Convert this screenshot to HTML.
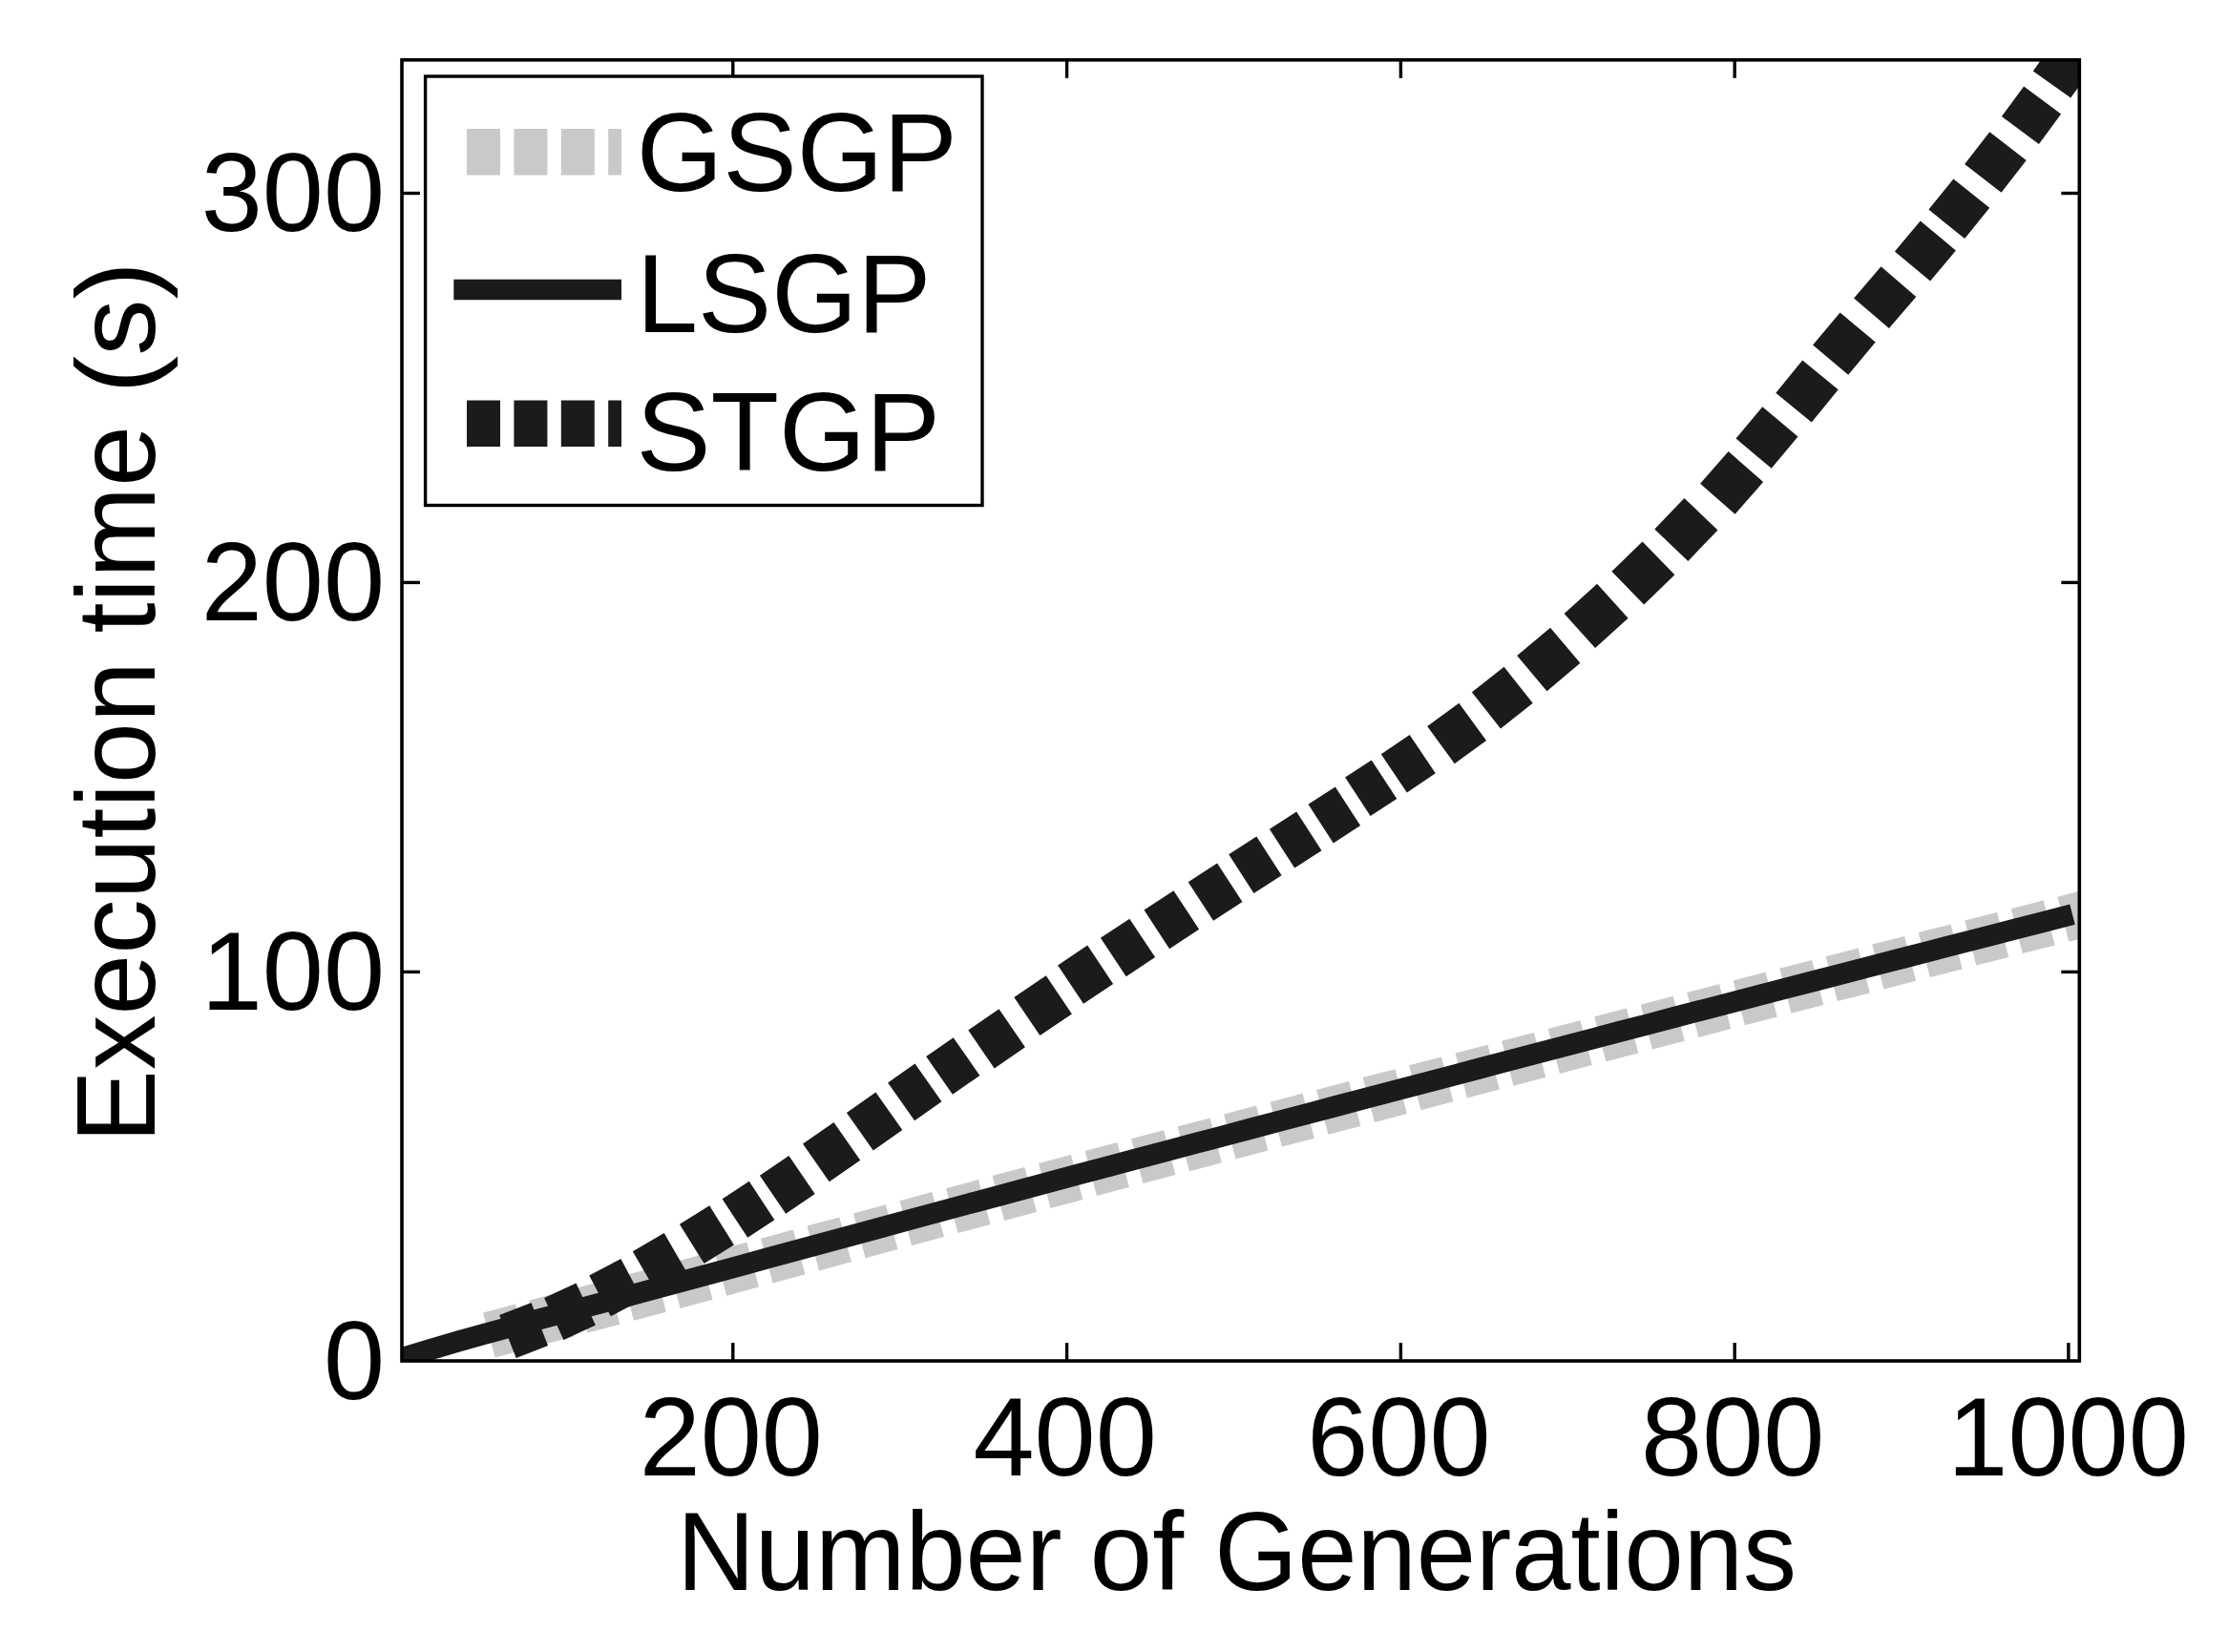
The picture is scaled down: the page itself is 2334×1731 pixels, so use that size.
<!DOCTYPE html>
<html><head><meta charset="utf-8"><title>Execution time</title>
<style>html,body{margin:0;padding:0;background:#fff}svg{display:block}text{font-family:"Liberation Sans",Arial,Helvetica,sans-serif;font-size:117px;fill:#000}</style></head>
<body>
<svg width="2334" height="1731" viewBox="0 0 2334 1731">
<rect width="2334" height="1731" fill="#fff"/>
<defs><clipPath id="ax"><rect x="421.0" y="62.8" width="1757.3" height="1363.2"/></clipPath></defs>
<g stroke="#000" stroke-width="3.4" fill="none">
<line x1="767.8" y1="1426.0" x2="767.8" y2="1407.0"/>
<line x1="767.8" y1="62.8" x2="767.8" y2="81.8"/>
<line x1="1117.6" y1="1426.0" x2="1117.6" y2="1407.0"/>
<line x1="1117.6" y1="62.8" x2="1117.6" y2="81.8"/>
<line x1="1467.4" y1="1426.0" x2="1467.4" y2="1407.0"/>
<line x1="1467.4" y1="62.8" x2="1467.4" y2="81.8"/>
<line x1="1817.2" y1="1426.0" x2="1817.2" y2="1407.0"/>
<line x1="1817.2" y1="62.8" x2="1817.2" y2="81.8"/>
<line x1="2166.9" y1="1426.0" x2="2166.9" y2="1407.0"/>
<line x1="2166.9" y1="62.8" x2="2166.9" y2="81.8"/>
<line x1="421.0" y1="1018.4" x2="440.0" y2="1018.4"/>
<line x1="2178.3" y1="1018.4" x2="2159.3" y2="1018.4"/>
<line x1="421.0" y1="610.4" x2="440.0" y2="610.4"/>
<line x1="2178.3" y1="610.4" x2="2159.3" y2="610.4"/>
<line x1="421.0" y1="202.5" x2="440.0" y2="202.5"/>
<line x1="2178.3" y1="202.5" x2="2159.3" y2="202.5"/>
</g>
<g clip-path="url(#ax)">
<g fill="#c9c9c9">
<polygon points="518.6,1422.4 552.5,1413.2 539.8,1366.4 506.0,1375.6"/>
<polygon points="567.0,1409.4 600.9,1400.4 588.5,1353.5 554.6,1362.5"/>
<polygon points="615.4,1396.6 649.3,1387.7 637.0,1340.8 603.2,1349.7"/>
<polygon points="664.0,1383.8 697.9,1374.8 685.4,1328.0 651.6,1337.0"/>
<polygon points="712.6,1370.9 746.5,1361.7 733.8,1314.9 700.0,1324.0"/>
<polygon points="761.2,1357.7 795.0,1348.5 782.3,1301.7 748.4,1310.9"/>
<polygon points="809.6,1344.5 843.5,1335.3 830.8,1288.5 797.0,1297.7"/>
<polygon points="858.1,1331.4 892.0,1322.2 879.3,1275.4 845.5,1284.6"/>
<polygon points="906.6,1318.2 940.5,1309.1 927.8,1262.2 894.0,1271.4"/>
<polygon points="955.1,1305.1 989.0,1296.0 976.4,1249.1 942.5,1258.3"/>
<polygon points="1003.6,1292.0 1037.5,1282.9 1024.9,1236.1 991.0,1245.2"/>
<polygon points="1052.1,1279.0 1086.0,1269.9 1073.4,1223.0 1039.5,1232.1"/>
<polygon points="1100.6,1266.0 1134.4,1256.9 1121.9,1210.0 1088.0,1219.1"/>
<polygon points="1149.0,1253.0 1182.9,1244.0 1170.4,1197.1 1136.6,1206.1"/>
<polygon points="1197.5,1240.1 1231.4,1231.1 1219.0,1184.2 1185.1,1193.2"/>
<polygon points="1246.0,1227.3 1279.9,1218.3 1267.5,1171.4 1233.6,1180.4"/>
<polygon points="1294.5,1214.4 1328.4,1205.5 1316.0,1158.6 1282.1,1167.5"/>
<polygon points="1343.0,1201.6 1376.9,1192.7 1364.5,1145.8 1330.6,1154.7"/>
<polygon points="1391.5,1188.8 1425.4,1179.9 1413.0,1133.0 1379.1,1141.9"/>
<polygon points="1440.0,1176.0 1473.9,1167.1 1461.5,1120.2 1427.6,1129.1"/>
<polygon points="1488.5,1163.2 1522.4,1154.3 1510.0,1107.4 1476.1,1116.3"/>
<polygon points="1537.0,1150.5 1570.9,1141.6 1558.5,1094.7 1524.6,1103.6"/>
<polygon points="1585.5,1137.7 1619.3,1128.8 1607.0,1081.9 1573.1,1090.8"/>
<polygon points="1634.0,1125.0 1667.8,1116.1 1655.5,1069.2 1621.6,1078.1"/>
<polygon points="1682.4,1112.3 1716.3,1103.4 1704.0,1056.5 1670.2,1065.3"/>
<polygon points="1730.9,1099.6 1764.8,1090.7 1752.6,1043.8 1718.7,1052.7"/>
<polygon points="1779.4,1086.9 1813.3,1078.1 1801.1,1031.2 1767.2,1040.0"/>
<polygon points="1827.9,1074.3 1861.8,1065.5 1849.6,1018.6 1815.7,1027.4"/>
<polygon points="1876.4,1061.7 1910.3,1052.9 1898.1,1006.0 1864.2,1014.8"/>
<polygon points="1924.9,1049.1 1958.8,1040.4 1946.6,993.4 1912.7,1002.2"/>
<polygon points="1973.4,1036.6 2007.2,1027.8 1995.1,980.9 1961.2,989.6"/>
<polygon points="2021.8,1024.1 2055.7,1015.4 2043.6,968.4 2009.8,977.1"/>
<polygon points="2070.3,1011.6 2104.2,1002.9 2092.1,955.9 2058.3,964.6"/>
<polygon points="2118.8,999.1 2152.7,990.4 2140.7,943.5 2106.8,952.2"/>
<polygon points="2167.3,986.7 2201.2,978.0 2189.2,931.0 2155.3,939.7"/>
</g>
<path d="M421.0,1423.0 L450.7,1414.1 L480.3,1405.4 L510.0,1397.1 L539.6,1389.1 L569.3,1381.2 L599.0,1373.4 L628.6,1365.6 L658.3,1357.8 L687.9,1349.9 L717.6,1341.9 L747.3,1333.8 L776.9,1325.8 L806.6,1317.7 L836.3,1309.7 L865.9,1301.6 L895.6,1293.6 L925.2,1285.6 L954.9,1277.5 L984.6,1269.5 L1014.2,1261.5 L1043.9,1253.6 L1073.5,1245.6 L1103.2,1237.6 L1132.9,1229.7 L1162.5,1221.8 L1192.2,1213.9 L1221.8,1206.1 L1251.5,1198.2 L1281.2,1190.4 L1310.8,1182.5 L1340.5,1174.7 L1370.2,1166.9 L1399.8,1159.0 L1429.5,1151.2 L1459.1,1143.4 L1488.8,1135.6 L1518.5,1127.8 L1548.1,1120.0 L1577.8,1112.2 L1607.4,1104.4 L1637.1,1096.6 L1666.8,1088.8 L1696.4,1081.0 L1726.1,1073.3 L1755.7,1065.5 L1785.4,1057.8 L1815.1,1050.1 L1844.7,1042.4 L1874.4,1034.7 L1904.1,1027.0 L1933.7,1019.3 L1963.4,1011.6 L1993.0,1004.0 L2022.7,996.3 L2052.4,988.7 L2082.0,981.1 L2111.7,973.4 L2141.3,965.8 L2171.0,958.2" fill="none" stroke="#1b1b1b" stroke-width="22"/>
<g fill="#1b1b1b">
<polygon points="540.7,1423.1 574.1,1410.1 556.5,1364.9 523.1,1377.9"/>
<polygon points="590.5,1403.9 623.9,1388.5 603.5,1344.4 570.1,1359.9"/>
<polygon points="639.8,1379.3 673.0,1361.8 650.4,1318.9 617.2,1336.4"/>
<polygon points="687.1,1353.2 720.0,1334.1 695.7,1292.1 662.8,1311.2"/>
<polygon points="737.6,1323.9 768.9,1304.4 743.2,1263.3 711.9,1282.8"/>
<polygon points="783.2,1296.8 811.4,1278.3 784.8,1237.8 756.6,1256.3"/>
<polygon points="823.2,1271.8 853.7,1251.1 826.4,1211.0 795.9,1231.7"/>
<polygon points="868.7,1238.3 901.2,1215.7 873.5,1175.9 841.0,1198.5"/>
<polygon points="914.8,1205.5 945.3,1184.0 917.4,1144.4 886.9,1165.9"/>
<polygon points="958.1,1174.2 986.5,1154.2 958.5,1114.6 930.1,1134.6"/>
<polygon points="997.9,1146.8 1026.4,1126.9 998.7,1087.2 970.2,1107.0"/>
<polygon points="1041.7,1119.4 1073.9,1097.3 1046.5,1057.3 1014.3,1079.4"/>
<polygon points="1089.4,1085.1 1122.9,1062.4 1095.8,1022.2 1062.3,1044.9"/>
<polygon points="1135.0,1051.7 1166.1,1030.9 1139.2,990.6 1108.1,1011.4"/>
<polygon points="1179.7,1023.2 1210.1,1003.1 1183.3,962.7 1152.9,982.8"/>
<polygon points="1225.1,994.2 1256.1,973.8 1229.5,933.3 1198.5,953.6"/>
<polygon points="1271.1,964.8 1301.5,945.1 1275.1,904.4 1244.7,924.2"/>
<polygon points="1313.5,936.0 1342.6,917.2 1316.3,876.5 1287.2,895.3"/>
<polygon points="1356.2,909.5 1384.5,891.3 1358.2,850.5 1329.9,868.8"/>
<polygon points="1396.8,883.4 1425.1,865.1 1398.8,824.4 1370.5,842.7"/>
<polygon points="1435.6,855.1 1463.3,837.0 1436.8,796.4 1409.1,814.5"/>
<polygon points="1473.9,830.5 1503.8,810.3 1476.7,770.1 1446.8,790.3"/>
<polygon points="1523.8,800.2 1557.0,775.9 1528.4,736.7 1495.2,761.0"/>
<polygon points="1572.0,763.4 1605.7,736.7 1575.6,698.7 1541.9,725.3"/>
<polygon points="1620.5,724.2 1655.4,694.8 1624.1,657.7 1589.2,687.1"/>
<polygon points="1671.1,679.0 1705.6,647.8 1673.1,611.8 1638.6,643.0"/>
<polygon points="1722.2,633.5 1754.4,602.3 1720.6,567.5 1688.4,598.8"/>
<polygon points="1768.4,587.9 1799.5,555.4 1764.4,521.9 1733.3,554.4"/>
<polygon points="1817.6,538.7 1847.1,505.1 1810.6,473.1 1781.1,506.8"/>
<polygon points="1855.7,490.7 1883.5,457.4 1846.3,426.3 1818.5,459.6"/>
<polygon points="1897.8,442.4 1925.7,408.3 1888.2,377.6 1860.3,411.7"/>
<polygon points="1936.2,392.7 1964.7,358.6 1927.6,327.5 1899.1,361.5"/>
<polygon points="1978.9,344.1 2007.3,310.9 1970.5,279.3 1942.1,312.6"/>
<polygon points="2022.1,294.6 2048.9,262.5 2011.7,231.4 1984.9,263.5"/>
<polygon points="2058.2,250.1 2084.2,217.8 2046.4,187.4 2020.4,219.6"/>
<polygon points="2096.5,201.7 2122.7,167.9 2084.3,138.2 2058.1,172.0"/>
<polygon points="2135.9,150.9 2159.1,119.5 2120.1,90.6 2096.9,122.0"/>
<polygon points="2169.2,102.6 2209.9,45.6 2170.4,17.4 2129.8,74.4"/>
</g>
</g>
<rect x="421.0" y="62.8" width="1757.3" height="1363.2" fill="none" stroke="#000" stroke-width="3.6"/>
<rect x="445.6" y="80" width="583.4" height="449.5" fill="#fff" stroke="#000" stroke-width="3.4"/>
<line x1="489" y1="159.2" x2="651" y2="159.2" stroke="#c9c9c9" stroke-width="48.5" stroke-dasharray="35 14.4"/>
<line x1="475.3" y1="303.5" x2="651" y2="303.5" stroke="#1b1b1b" stroke-width="21.5"/>
<line x1="489" y1="443.8" x2="651" y2="443.8" stroke="#1b1b1b" stroke-width="48.5" stroke-dasharray="35 14.4"/>
<text id="lg1" x="666.8" y="199.8" textLength="336" lengthAdjust="spacingAndGlyphs">GSGP</text>
<text id="lg2" x="666.8" y="347.6" textLength="308.5" lengthAdjust="spacingAndGlyphs">LSGP</text>
<text id="lg3" x="666.5" y="492.5">STGP</text>
<text id="xt200" x="765.8" y="1546.4" text-anchor="middle" textLength="192.3" lengthAdjust="spacingAndGlyphs">200</text>
<text id="xt400" x="1115.6" y="1546.4" text-anchor="middle" textLength="192.3" lengthAdjust="spacingAndGlyphs">400</text>
<text id="xt600" x="1465.4" y="1546.4" text-anchor="middle" textLength="192.3" lengthAdjust="spacingAndGlyphs">600</text>
<text id="xt800" x="1815.2" y="1546.4" text-anchor="middle" textLength="192.3" lengthAdjust="spacingAndGlyphs">800</text>
<text id="xt1000" x="2166.6" y="1546.4" text-anchor="middle" textLength="252.5" lengthAdjust="spacingAndGlyphs">1000</text>
<text id="yt0" x="403" y="1465.6" text-anchor="end" textLength="64.1" lengthAdjust="spacingAndGlyphs">0</text>
<text id="yt100" x="403" y="1058.0" text-anchor="end" textLength="192.3" lengthAdjust="spacingAndGlyphs">100</text>
<text id="yt200" x="403" y="650.0" text-anchor="end" textLength="192.3" lengthAdjust="spacingAndGlyphs">200</text>
<text id="yt300" x="403" y="242.1" text-anchor="end" textLength="192.3" lengthAdjust="spacingAndGlyphs">300</text>
<text id="xl1" x="708.9" y="1666" textLength="403.6" lengthAdjust="spacingAndGlyphs">Number</text>
<text id="xl2" x="1141.4" y="1666" textLength="98.6" lengthAdjust="spacingAndGlyphs">of</text>
<text id="xl3" x="1272.2" y="1666" textLength="609.8" lengthAdjust="spacingAndGlyphs">Generations</text>
<text id="yl1" transform="translate(162.3,1197.7) rotate(-90)" textLength="504.5" lengthAdjust="spacingAndGlyphs">Execution</text>
<text id="yl2" transform="translate(162.3,663.4) rotate(-90)" textLength="217.5" lengthAdjust="spacingAndGlyphs">time</text>
<text id="yl3" transform="translate(162.3,412.2) rotate(-90)" textLength="138.0" lengthAdjust="spacingAndGlyphs">(s)</text>
</svg></body></html>
